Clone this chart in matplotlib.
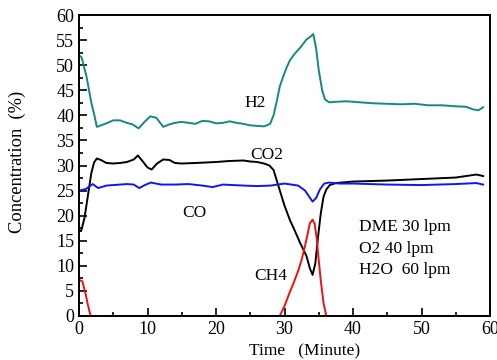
import matplotlib.pyplot as plt
from matplotlib.ticker import MultipleLocator

plt.rcParams['font.family'] = ['Liberation Serif', 'DejaVu Serif']

# readings taken off the reference figure
h2_t = [0, 0.4, 1.1, 1.8, 2.3, 2.6, 3.2, 4, 5, 6, 7, 7.8, 8.7, 9.5, 10.4, 11.3, 12.3, 13.2,
        14, 15, 16, 17, 18, 19, 20, 21, 22, 23, 24, 25, 26, 27, 27.9, 28.4, 28.9, 29.3,
        29.8, 30.3, 30.8, 31.5, 32.3, 33.2, 33.8, 34.2, 34.6, 35.0, 35.5, 35.9, 36.5, 37.5,
        39, 41, 43, 45, 47, 49, 51, 53, 55, 56.5, 57.5, 58.3, 59]
h2 = [52, 51.5, 47.7, 42.5, 39.7, 37.7, 38.0, 38.4, 39.0, 39.0, 38.5, 38.2, 37.4, 38.6, 39.8, 39.5,
      37.7, 38.2, 38.5, 38.7, 38.5, 38.3, 38.9, 38.8, 38.4, 38.5, 38.8, 38.5, 38.3, 38.0, 37.9, 37.8,
      38.3, 40.0, 43.0, 45.7, 47.7, 49.5, 51.0, 52.3, 53.5, 55.1, 55.7, 56.2, 53.5, 49.0, 45.0, 43.2,
      42.6, 42.7, 42.8, 42.6, 42.4, 42.3, 42.2, 42.3, 42.0, 42.0, 41.8, 41.7, 41.2, 41.0, 41.6]

co2_t = [0, 0.3, 0.8, 1.3, 1.8, 2.2, 2.6, 3.2, 4, 5, 6, 7, 8, 8.6, 9.2, 10, 10.6, 11.4, 12.3,
         13.2, 14, 15, 17, 20, 22, 24, 25, 26, 27, 27.8, 28.4, 29.3, 30.0, 30.8, 31.5, 32.3,
         33.2, 33.7, 34.1, 34.5, 34.9, 35.3, 35.7, 36.1, 36.6, 37.5, 40, 45, 50, 55, 57, 58, 59]
co2 = [17.1, 16.9, 19.5, 24.0, 28.5, 30.6, 31.4, 31.1, 30.5, 30.4, 30.5, 30.7, 31.2, 32.0, 31.0,
       29.6, 29.2, 30.4, 31.2, 31.1, 30.5, 30.4, 30.5, 30.7, 30.9, 31.0, 30.8, 30.7, 30.4, 30.0,
       29.1, 25.1, 22.0, 19.1, 17.0, 14.5, 12.0, 9.5, 8.2, 10.5, 15.8, 20.5, 23.8, 25.2, 26.1,
       26.5, 26.8, 27.0, 27.3, 27.6, 28.0, 28.2, 27.9]

co_t = [0, 1, 2, 2.8, 4, 5, 7, 8, 8.8, 9.6, 10.5, 12, 14, 16, 18, 19.5, 21, 24, 26, 28, 30,
        31, 32, 33, 33.6, 34.1, 34.6, 35.2, 35.8, 36.5, 38, 40, 45, 50, 55, 58, 59]
co = [25.0, 25.3, 26.3, 25.5, 26.0, 26.1, 26.3, 26.2, 25.5, 26.1, 26.6, 26.2, 26.2, 26.3, 26.0,
      25.7, 26.2, 26.0, 25.9, 26.0, 26.4, 26.2, 26.0, 25.0, 23.8, 22.8, 23.5, 25.3, 26.4, 26.6,
      26.4, 26.4, 26.2, 26.1, 26.3, 26.5, 26.2]

ch4_t = [0, 0.5, 1.0, 1.3, 1.7, 5, 15, 25, 29.3, 30.0, 30.7, 31.3, 32.0, 32.5, 33.0, 33.4, 33.7,
         34.1, 34.4, 34.7, 34.9, 35.3, 35.7, 36.1, 40, 50, 59]
ch4 = [7.2, 6.9, 4.2, 2.2, 0, 0, 0, 0, 0, 2.0, 4.5, 6.5, 9.0, 11.2, 14.0, 16.5, 18.5, 19.2, 18.4,
       15.5, 12.5, 7.0, 2.6, 0, 0, 0, 0]

fig = plt.figure(figsize=(4.97, 3.6), dpi=100)
ax = fig.add_axes([79 / 497, 44 / 360, 411 / 497, 301 / 360])

ax.plot(h2_t, h2, color='#14897d', lw=1.4)
ax.plot(co2_t, co2, color='black', lw=1.4)
ax.plot(co_t, co, color='#1414f0', lw=1.4)
ax.plot(ch4_t, ch4, color='#f01010', lw=1.4)

ax.set_xlim(0, 60)
ax.set_ylim(0, 60)
ax.xaxis.set_major_locator(MultipleLocator(10))
ax.xaxis.set_minor_locator(MultipleLocator(5))
ax.yaxis.set_major_locator(MultipleLocator(5))
ax.yaxis.set_minor_locator(MultipleLocator(2.5))
ax.tick_params(which='both', direction='in', labelsize=13, width=1.2)
ax.tick_params(which='major', length=6)
ax.tick_params(which='minor', length=3)
for s in ax.spines.values():
    s.set_linewidth(1.4)

fs = 12.5
ax.text(25.7, 42.5, 'H2', fontsize=fs, ha='center', va='center')
ax.text(27.4, 32.1, 'CO2', fontsize=fs, ha='center', va='center')
ax.text(16.9, 20.5, 'CO', fontsize=fs, ha='center', va='center')
ax.text(28.0, 8.0, 'CH4', fontsize=fs, ha='center', va='center')
ax.text(40.9, 17.7, 'DME 30 lpm', fontsize=fs, va='center')
ax.text(40.9, 13.3, 'O2 40 lpm', fontsize=fs, va='center')
ax.text(40.9, 9.2, 'H2O  60 lpm', fontsize=fs, va='center')

fig.text(305 / 497, 1 - 351 / 360, 'Time   (Minute)', fontsize=12.5, ha='center', va='center')
fig.text(17 / 497, 1 - 162 / 360, 'Concentration  (%)', fontsize=13.3, ha='center', va='center',
         rotation=90)

fig.savefig('out.png', dpi=100)
